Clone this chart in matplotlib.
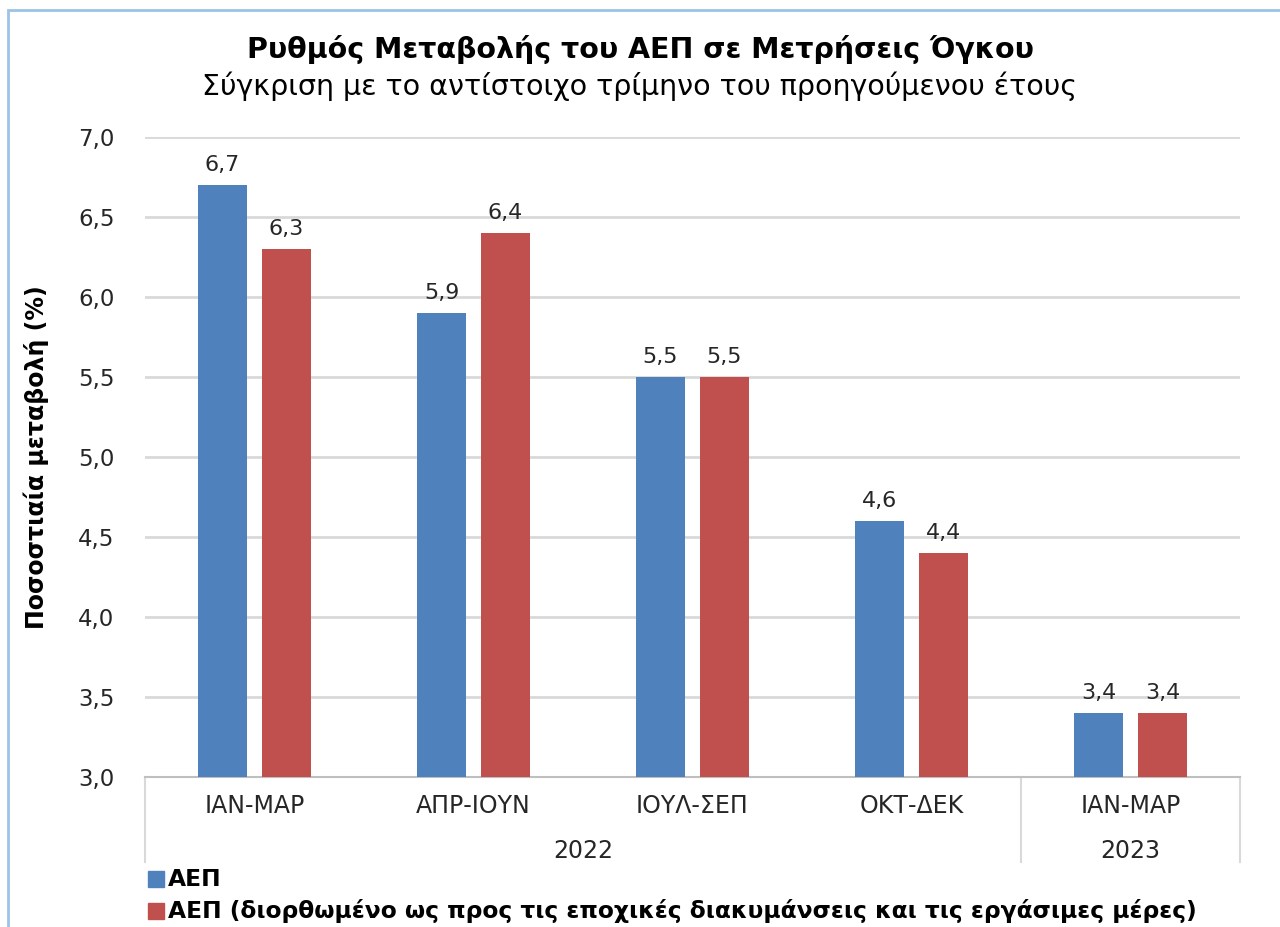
import matplotlib
matplotlib.use("Agg")
import matplotlib.pyplot as plt
import matplotlib.transforms as mtransforms
from matplotlib.patches import Rectangle
import numpy as np

quarters = ["ΙΑΝ-ΜΑΡ", "ΑΠΡ-ΙΟΥΝ", "ΙΟΥΛ-ΣΕΠ", "ΟΚΤ-ΔΕΚ", "ΙΑΝ-ΜΑΡ"]
years = ["2022", "2023"]
year_spans = [(0, 3), (4, 4)]
gdp = [6.7, 5.9, 5.5, 4.6, 3.4]
gdp_adj = [6.3, 6.4, 5.5, 4.4, 3.4]
series_names = ["ΑΕΠ",
                "ΑΕΠ (διορθωμένο ως προς τις εποχικές διακυμάνσεις και τις εργάσιμες μέρες)"]
yticks = [3.0, 3.5, 4.0, 4.5, 5.0, 5.5, 6.0, 6.5, 7.0]

BLUE = "#4f81bd"
RED = "#c0504d"
TXT = "#262626"

plt.rcParams['font.family'] = ['DejaVu Sans']

fig = plt.figure(figsize=(12.8, 9.27), dpi=100)
W, H = 1280, 927
ax = fig.add_axes([145 / W, 1 - 777 / H, (1240 - 145) / W, (777 - 137) / H])

# chart frame (light blue)
fig.patches.append(Rectangle((8 / W, -0.05), 1.2, 1 - 10 / H + 0.05, transform=fig.transFigure,
                             fill=False, edgecolor="#9dc3e6", linewidth=2))

x = np.arange(len(quarters))
bw = 0.225
off = 0.146
b1 = ax.bar(x - off, gdp, bw, color=BLUE, zorder=3)
b2 = ax.bar(x + off, gdp_adj, bw, color=RED, zorder=3)

for bars, vals in ((b1, gdp), (b2, gdp_adj)):
    for r, v in zip(bars, vals):
        ax.annotate(f"{v:.1f}".replace(".", ","), (r.get_x() + r.get_width() / 2, v),
                    xytext=(0, 7), textcoords="offset points", ha="center", va="bottom",
                    fontsize=16, color=TXT)

ax.set_xlim(-0.5, len(quarters) - 0.5)
ax.set_ylim(3.0, 7.0)
ax.set_yticks(yticks)
ax.set_yticklabels([f"{t:.1f}".replace(".", ",") for t in yticks], fontsize=16.5, color=TXT)
ax.yaxis.grid(True, color="#d9d9d9", linewidth=2, zorder=0)
ax.tick_params(axis="y", length=0, pad=22)
ax.tick_params(axis="x", length=0, pad=12)
ax.set_xticks(x)
ax.set_xticklabels(quarters, fontsize=17, color=TXT)
for s in ("top", "right", "left"):
    ax.spines[s].set_visible(False)
ax.spines["bottom"].set_color("#bfbfbf")
ax.spines["bottom"].set_linewidth(1.5)

# multi-level category axis
trans = mtransforms.blended_transform_factory(ax.transData, ax.transAxes)
for bx in (-0.5, 3.5, 4.5):
    ax.plot([bx, bx], [0, -0.133], transform=trans, color="#d9d9d9", linewidth=1.5, clip_on=False)
for yr, (a, b) in zip(years, year_spans):
    ax.text((a + b) / 2, -0.115, yr, transform=trans, ha="center", va="center",
            fontsize=17, color=TXT)

ax.set_ylabel("Ποσοστιαία μεταβολή (%)", fontsize=17, fontweight="bold")
ax.yaxis.set_label_coords(-0.088, 0.5)

fig.text(0.5, 1 - 49 / H, "Ρυθμός Μεταβολής του ΑΕΠ σε Μετρήσεις Όγκου", ha="center", va="center",
         fontsize=20.5, fontweight="bold")
fig.text(0.5, 1 - 86 / H, "Σύγκριση με το αντίστοιχο τρίμηνο του προηγούμενου έτους", ha="center",
         va="center", fontsize=20.5)

# legend
for i, (name, col) in enumerate(zip(series_names, (BLUE, RED))):
    yy = 1 - (879 + 32 * i) / H
    fig.patches.append(Rectangle((148 / W, yy - 8 / H), 16 / W, 16 / H, transform=fig.transFigure,
                                 color=col))
    fig.text(168 / W, yy, name, ha="left", va="center", fontsize=16.8, fontweight="bold")

fig.savefig("out.png", dpi=100)
